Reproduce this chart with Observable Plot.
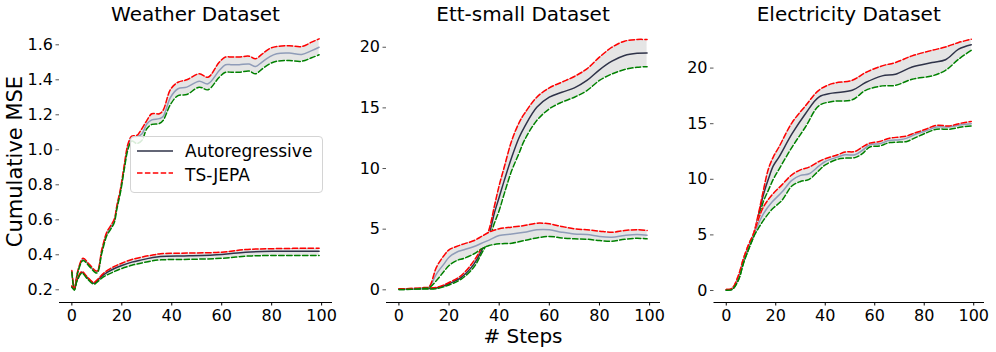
<!DOCTYPE html>
<html>
<head>
<meta charset="utf-8">
<script src="https://cdn.jsdelivr.net/npm/d3@7"></script>
<script src="https://cdn.jsdelivr.net/npm/@observablehq/plot@0.6"></script>
<style>
  html, body { margin: 0; padding: 0; background: #fff; }
  #chart { position: relative; width: 996px; height: 352px; font-family: "DejaVu Sans", sans-serif; overflow: hidden; }
  .panel { position: absolute; top: 0; }
  .legend { position: absolute; left: 130px; top: 136px; width: 191px; height: 55px; border: 1px solid #d4d4d4; border-radius: 4px; background: rgba(255,255,255,0.85); font-size: 17px; color: #000; }
  .legend .row { position: absolute; left: 6px; display: flex; align-items: center; }
  .legend .row span { margin-left: 12px; }
</style>
</head>
<body>
<div id="chart"></div>
<script>
// ---------- shared ----------
const stepTicks = [0, 20, 40, 60, 80, 100];
const seriesNames = ["Autoregressive", "TS-JEPA"];
const titles = ["Weather Dataset", "Ett-small Dataset", "Electricity Dataset"];
const yLabel = "Cumulative MSE";
const xLabel = "# Steps";

// ---------- Weather ----------
const weatherTicks = [0.2, 0.4, 0.6, 0.8, 1.0, 1.2, 1.4, 1.6];
// light curve (high)
const weatherAX = [0, 1, 2.5, 4.5, 7, 10, 12, 14, 15.5, 17, 18, 19.5, 21, 22.5, 24, 26, 28, 30, 32, 35, 36.5, 39.5, 42.5, 46, 51, 54.5, 59, 61.5, 64, 67, 71, 73.5, 76, 79, 82, 87, 92, 96, 99];
const weatherAMean = [0.305, 0.205, 0.31, 0.375, 0.34, 0.302, 0.42, 0.52, 0.555, 0.595, 0.67, 0.77, 0.9, 1.02, 1.07, 1.075, 1.09, 1.147, 1.171, 1.178, 1.19, 1.30, 1.349, 1.358, 1.392, 1.377, 1.453, 1.486, 1.486, 1.486, 1.49, 1.476, 1.50, 1.53, 1.549, 1.553, 1.545, 1.567, 1.586];
const weatherAHi = [0.31, 0.212, 0.315, 0.38, 0.345, 0.307, 0.43, 0.53, 0.565, 0.605, 0.68, 0.78, 0.915, 1.035, 1.078, 1.082, 1.12, 1.167, 1.206, 1.206, 1.225, 1.345, 1.386, 1.40, 1.434, 1.415, 1.50, 1.53, 1.53, 1.53, 1.535, 1.52, 1.545, 1.577, 1.59, 1.595, 1.59, 1.615, 1.634];
const weatherALo = [0.30, 0.198, 0.305, 0.368, 0.334, 0.296, 0.41, 0.51, 0.545, 0.585, 0.66, 0.76, 0.89, 1.005, 1.05, 1.036, 1.053, 1.12, 1.145, 1.15, 1.167, 1.26, 1.31, 1.316, 1.358, 1.343, 1.415, 1.443, 1.443, 1.443, 1.45, 1.434, 1.46, 1.49, 1.506, 1.51, 1.506, 1.526, 1.543];
// dark curve (low)
const weatherBX = [0, 1, 2, 4, 6, 8.8, 10, 12.8, 16.8, 20, 24, 28, 32, 35.5, 47, 60, 69.5, 80, 99];
const weatherBMean = [0.219, 0.205, 0.253, 0.30, 0.272, 0.238, 0.25, 0.287, 0.32, 0.339, 0.358, 0.371, 0.383, 0.39, 0.394, 0.402, 0.415, 0.42, 0.42];
const weatherBHi = [0.222, 0.208, 0.256, 0.304, 0.276, 0.242, 0.255, 0.296, 0.332, 0.352, 0.373, 0.387, 0.398, 0.406, 0.41, 0.415, 0.43, 0.435, 0.438];
const weatherBLo = [0.214, 0.20, 0.248, 0.295, 0.266, 0.232, 0.243, 0.275, 0.303, 0.322, 0.34, 0.353, 0.365, 0.371, 0.374, 0.38, 0.392, 0.396, 0.396];

// ---------- Ett-small ----------
const ettTicks = [0, 5, 10, 15, 20];
// dark curve (high)
const ettAX = [0, 5, 10, 15, 20, 25, 30, 33, 36, 38, 40, 42, 45, 48, 50, 55, 60, 65, 70, 75, 80, 85, 90, 95, 99];
const ettAMean = [0.05, 0.07, 0.1, 0.15, 0.5, 1.04, 2.14, 3.24, 4.6, 6.27, 7.63, 9.0, 10.93, 12.58, 13.4, 15.05, 15.88, 16.29, 16.65, 17.26, 18.14, 18.85, 19.32, 19.5, 19.53];
const ettAHi = [0.08, 0.1, 0.13, 0.2, 0.6, 1.2, 2.41, 3.5, 5.0, 6.81, 8.6, 10.1, 12.3, 13.8, 14.5, 15.88, 16.65, 17.12, 17.59, 18.22, 19.18, 20.0, 20.5, 20.64, 20.64];
const ettALo = [0.02, 0.04, 0.07, 0.1, 0.4, 0.9, 1.9, 3.0, 4.2, 5.44, 6.54, 7.91, 9.83, 11.3, 12.3, 13.96, 14.92, 15.47, 15.88, 16.43, 17.26, 17.8, 18.16, 18.35, 18.4];
// light curve (low)
const ettBX = [0, 5, 10, 12, 15, 18, 20, 23, 26, 30, 33, 36, 40, 45, 50, 55, 60, 65, 70, 75, 80, 85, 90, 95, 99];
const ettBMean = [0.05, 0.08, 0.15, 0.2, 1.32, 2.14, 2.69, 3.1, 3.3, 3.57, 3.84, 4.1, 4.48, 4.6, 4.75, 4.95, 4.95, 4.75, 4.6, 4.56, 4.4, 4.34, 4.48, 4.56, 4.5];
const ettBHi = [0.08, 0.11, 0.18, 0.24, 1.87, 2.83, 3.3, 3.57, 3.79, 4.06, 4.4, 4.75, 5.03, 5.17, 5.3, 5.49, 5.44, 5.22, 5.03, 4.95, 4.84, 4.75, 4.89, 4.95, 4.89];
const ettBLo = [0.02, 0.05, 0.12, 0.16, 0.77, 1.53, 2.0, 2.41, 2.6, 2.97, 3.38, 3.65, 3.79, 3.84, 4.06, 4.28, 4.4, 4.28, 4.2, 4.17, 4.06, 4.0, 4.17, 4.25, 4.2];

// ---------- Electricity ----------
const elecTicks = [0, 5, 10, 15, 20];
// dark curve (high)
const elecAX = [0, 2.4, 5, 7, 9, 11, 13, 15, 17, 19, 21.3, 26.6, 32, 37.4, 42.8, 50.9, 56.3, 63, 68.4, 75.1, 83.2, 88.6, 93.9, 99];
const elecAMean = [0.05, 0.15, 1.2, 2.7, 3.9, 4.95, 6.7, 8.6, 10.0, 11.2, 12.0, 14.1, 15.9, 17.4, 17.75, 18.0, 18.7, 19.3, 19.45, 20.1, 20.5, 20.75, 21.7, 22.1];
const elecAHi = [0.08, 0.2, 1.4, 2.9, 4.1, 5.1, 6.9, 9.0, 10.9, 12.0, 12.9, 15.1, 16.6, 18.0, 18.6, 18.9, 19.6, 20.2, 20.5, 21.1, 21.6, 21.9, 22.3, 22.6];
const elecALo = [0.02, 0.1, 1.0, 2.5, 3.7, 4.8, 6.4, 8.0, 9.0, 10.0, 10.9, 12.9, 14.7, 16.6, 17.0, 17.15, 18.0, 18.4, 18.45, 19.0, 19.3, 19.8, 20.8, 21.6];
// light curve (low)
const elecBX = [0, 2.4, 5, 7, 9, 11, 13, 15, 18.5, 22.5, 26.5, 30, 33.5, 37.5, 40, 45, 48, 52, 55, 58, 62, 66, 70, 73, 76, 80, 85, 90, 95, 99];
const elecBMean = [0.05, 0.15, 1.2, 2.7, 3.9, 4.95, 6.0, 6.9, 7.95, 8.85, 9.9, 10.35, 10.5, 11.2, 11.6, 12.0, 12.2, 12.2, 12.6, 13.1, 13.2, 13.5, 13.55, 13.7, 14.0, 14.3, 14.7, 14.7, 14.9, 15.0];
const elecBHi = [0.08, 0.2, 1.4, 2.9, 4.1, 5.1, 6.4, 7.5, 8.6, 9.5, 10.4, 10.85, 11.1, 11.6, 11.85, 12.2, 12.45, 12.5, 12.9, 13.25, 13.4, 13.7, 13.8, 13.9, 14.15, 14.45, 14.85, 14.8, 15.05, 15.2];
const elecBLo = [0.02, 0.1, 1.0, 2.5, 3.7, 4.8, 5.6, 6.3, 7.3, 8.1, 9.4, 9.8, 10.0, 10.8, 11.3, 11.8, 11.9, 11.95, 12.3, 12.9, 13.0, 13.3, 13.35, 13.4, 13.7, 14.1, 14.5, 14.5, 14.7, 14.8];

// ---------- styles ----------
const DARK = "#2f3349";
const LIGHT = "#8f9cb8";
const BAND = "#e5e5e5";
const RED = "#ff0000";
const GREEN = "#008000";
const DASH = "5.5,2.4";

function rows(xs, mean, hi, lo) {
  return xs.map((x, i) => ({x, mean: mean[i], hi: hi[i], lo: lo[i]}));
}

function seriesMarks(data, color) {
  const c = "catmull-rom";
  return [
    Plot.areaY(data, {x: "x", y1: "lo", y2: "hi", fill: BAND, curve: c}),
    Plot.lineY(data, {x: "x", y: "mean", stroke: color, strokeWidth: 1.5, curve: c}),
    Plot.lineY(data, {x: "x", y: "hi", stroke: RED, strokeWidth: 1.5, strokeDasharray: DASH, curve: c}),
    Plot.lineY(data, {x: "x", y: "lo", stroke: GREEN, strokeWidth: 1.5, strokeDasharray: DASH, curve: c})
  ];
}

function makePanel(opts) {
  const marks = [
    ...seriesMarks(opts.high, opts.highColor),
    ...seriesMarks(opts.low, opts.lowColor),
    Plot.frame({anchor: "bottom", stroke: "#000", strokeWidth: 1}),
    Plot.axisX({ticks: stepTicks, tickSize: 3.5, tickPadding: 4, fontSize: 16, tickFormat: d3.format("d"), label: null}),
    Plot.axisY({ticks: opts.yTicks, tickSize: 3.5, tickPadding: 3, fontSize: 16, tickFormat: opts.fmt, stroke: "#555", label: null}),
    Plot.text([opts.title], {frameAnchor: "top", text: d => d, dy: -12, fontSize: 20, lineAnchor: "middle"})
  ];
  if (opts.extra) marks.push(...opts.extra);
  const svg = Plot.plot({
    width: opts.width,
    height: 352,
    marginLeft: opts.marginLeft,
    marginRight: opts.marginRight,
    marginTop: 26,
    marginBottom: 50,
    style: {fontFamily: "DejaVu Sans, sans-serif", background: "transparent", overflow: "visible", fontSize: "16px"},
    x: {domain: [-4.95, 103.95]},
    y: {domain: opts.yDomain},
    marks
  });
  const div = document.createElement("div");
  div.className = "panel";
  div.style.left = opts.left + "px";
  div.appendChild(svg);
  document.getElementById("chart").appendChild(div);
}

makePanel({
  left: 0, width: 335, marginLeft: 59, marginRight: 4,
  yDomain: [0.1274, 1.7046], yTicks: weatherTicks, fmt: d3.format(".1f"),
  title: titles[0],
  high: rows(weatherAX, weatherAMean, weatherAHi, weatherALo), highColor: LIGHT,
  low: rows(weatherBX, weatherBMean, weatherBHi, weatherBLo), lowColor: DARK,
  extra: [Plot.text([yLabel], {frameAnchor: "left", text: d => d, rotate: -90, dx: -44, dy: -3, fontSize: 21, textAnchor: "middle", lineAnchor: "middle"})]
});

makePanel({
  left: 335, width: 330, marginLeft: 51, marginRight: 6,
  yDomain: [-1.047, 21.71], yTicks: ettTicks, fmt: d3.format("d"),
  title: titles[1],
  high: rows(ettAX, ettAMean, ettAHi, ettALo), highColor: DARK,
  low: rows(ettBX, ettBMean, ettBHi, ettBLo), lowColor: LIGHT,
  extra: [Plot.text([xLabel], {frameAnchor: "bottom", text: d => d, dy: 34, fontSize: 20, lineAnchor: "middle"})]
});

makePanel({
  left: 665, width: 331, marginLeft: 48.5, marginRight: 13,
  yDomain: [-1.079, 23.74], yTicks: elecTicks, fmt: d3.format("d"),
  title: titles[2],
  high: rows(elecAX, elecAMean, elecAHi, elecALo), highColor: DARK,
  low: rows(elecBX, elecBMean, elecBHi, elecBLo), lowColor: LIGHT
});

// legend (in the Weather panel)
const legend = document.createElement("div");
legend.className = "legend";
legend.innerHTML = `
  <div class="row" style="top:4px"><svg width="36" height="20"><line x1="0" x2="36" y1="10" y2="10" stroke="${DARK}" stroke-width="1.5"/></svg><span>${seriesNames[0]}</span></div>
  <div class="row" style="top:28px"><svg width="36" height="20"><line x1="0" x2="36" y1="8" y2="8" stroke="${RED}" stroke-width="1.5" stroke-dasharray="${DASH}"/></svg><span>${seriesNames[1]}</span></div>`;
document.getElementById("chart").appendChild(legend);
</script>
</body>
</html>
